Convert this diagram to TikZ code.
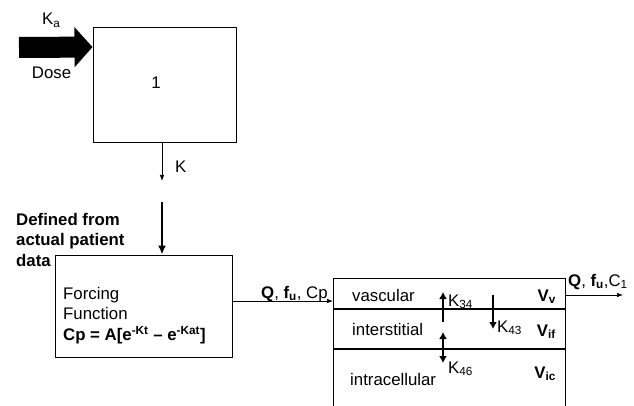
\documentclass[tikz,border=0pt]{standalone}
\usepackage{fontspec}
\setmainfont{Liberation Sans}
\usetikzlibrary{arrows.meta,positioning,calc}
\newcommand{\mainsize}{\fontsize{16.8}{20.5}\selectfont}

\begin{document}
\begin{tikzpicture}[x=1pt,y=-1pt,
  every node/.style={font=\mainsize,inner sep=0pt},
  compbox/.style={draw,line width=0.9pt},
  flow/.style={line width=0.7pt,-{Latex[length=6pt,width=4.5pt]}},
  kflow/.style={line width=2.3pt,-{Latex[length=7pt,width=8pt]}},
  divider/.style={line width=2.4pt}]
  \useasboundingbox (0,0) rectangle (634,406);

  % Compartment 1 with the dose
  \node[compbox,minimum width=143pt,minimum height=115pt] (box1) at (164.5,84.5) {};
  \node (one) at (156,83) {1};
  \coordinate (dosetail) at (19,47.5);
  \draw[line width=21pt,-{Triangle[length=18pt,width=39pt]}] (dosetail) -- ($(box1.north west)+(0,20.5)$);
  \node[anchor=base west] (ka) at (42,25) {K\textsubscript{a}};
  \node (dose) at (51.5,72.5) {Dose};

  % Elimination
  \coordinate (kend) at (162,181);
  \draw[flow] (kend |- box1.south) -- (kend);
  \node[anchor=west] (klab) at (175,167) {K};

  % Forcing function
  \node[compbox,minimum width=177pt,minimum height=102pt] (forcing) at (143.5,306) {};
  \node[anchor=north west,align=left] (forctext) at (63,287)
    {Forcing\\Function\\\textbf{Cp = A[e\textsuperscript{-Kt} -- e\textsuperscript{-Kat}]}};
  \node[anchor=north west,align=left,font=\mainsize\bfseries] (defined) at (16,213)
    {Defined from\\actual patient\\data};
  \coordinate (datain) at (162,202);
  \draw[line width=2pt,-{Latex[length=9pt,width=8pt]}] (datain) -- (datain |- forcing.north);

  % Tissue compartment
  \node[compbox,minimum width=232pt,minimum height=150pt,anchor=north west] (tissue) at (333,278) {};
  \coordinate (div1) at (333,309);
  \coordinate (div2) at (333,349);
  \draw[divider] (div1) -- (div1 -| tissue.east);
  \draw[divider] (div2) -- (div2 -| tissue.east);

  \draw[flow] ([yshift=5pt]forcing.east) -- ([yshift=5pt]forcing.east -| tissue.west);
  \node[anchor=base west] (qin) at (261,298) {\textbf{Q}, \textbf{f\textsubscript{u}}, Cp};
  \coordinate (qout) at (623,295);
  \draw[flow] (tissue.east |- qout) -- (qout);
  \node[anchor=base west] (qoutlab) at (568,286) {\textbf{Q}, \textbf{f\textsubscript{u}},C\textsubscript{1}};

  \node[anchor=base west] (vasc) at (352,301) {vascular};
  \node[anchor=base west] (inter) at (352,335) {interstitial};
  \node[anchor=base west] (intra) at (350,385) {intracellular};
  \node[anchor=base east,font=\mainsize\bfseries] (vv) at (556,301) {V\textsubscript{v}};
  \node[anchor=base east,font=\mainsize\bfseries] (vif) at (556,336) {V\textsubscript{if}};
  \node[anchor=base east,font=\mainsize\bfseries] (vic) at (556,378) {V\textsubscript{ic}};

  % Exchange between layers
  \coordinate (k34a) at (443,322);
  \coordinate (k34b) at (443,292);
  \draw[kflow] (k34a) -- (k34b);
  \node[anchor=base west] (k34) at (448,306) {K\textsubscript{34}};
  \coordinate (k43a) at (493,295);
  \coordinate (k43b) at (493,329);
  \draw[kflow] (k43a) -- (k43b);
  \node[anchor=base west] (k43) at (497,332) {K\textsubscript{43}};
  \coordinate (k46a) at (443,332);
  \coordinate (k46b) at (443,363);
  \draw[kflow,{Latex[length=7pt,width=8pt]}-{Latex[length=7pt,width=8pt]}] (k46a) -- (k46b);
  \node[anchor=base west] (k46) at (448,373) {K\textsubscript{46}};
\end{tikzpicture}
\end{document}
